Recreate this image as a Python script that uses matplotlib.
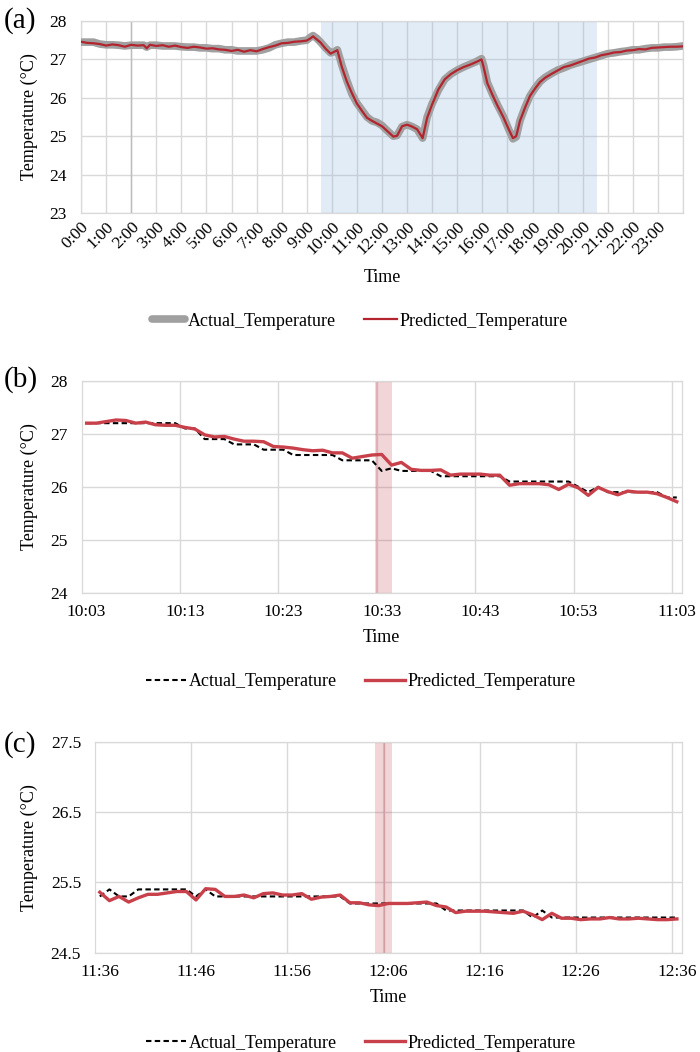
import matplotlib
matplotlib.use('Agg')
import matplotlib.pyplot as plt
import matplotlib.transforms as mtransforms
from matplotlib.ticker import FixedLocator, NullFormatter

plt.rcParams['font.family'] = ['Liberation Serif', 'DejaVu Serif']
plt.rcParams['axes.unicode_minus'] = False

# ---- panel (a): whole day, hours ----
hours_a = [0.00, 0.25, 0.50, 0.75, 1.00, 1.25, 1.50, 1.75, 2.00, 2.25, 2.50, 2.62, 2.75,
           3.00, 3.25, 3.50, 3.75, 4.00, 4.25, 4.50, 4.75, 5.00, 5.25, 5.50, 5.75,
           6.00, 6.25, 6.50, 6.75, 7.00, 7.25, 7.50, 7.75, 8.00, 8.25, 8.50, 8.75,
           9.00, 9.15, 9.25, 9.40, 9.55, 9.75, 9.95, 10.10, 10.22, 10.40, 10.60, 10.80,
           11.00, 11.20, 11.40, 11.60, 11.80, 12.00, 12.20, 12.45, 12.60, 12.80,
           13.00, 13.20, 13.40, 13.62, 13.80, 14.00, 14.25, 14.50, 14.75,
           15.00, 15.25, 15.50, 15.75, 15.97, 16.05, 16.20, 16.40, 16.60, 16.85,
           17.05, 17.22, 17.35, 17.50, 17.70, 17.90, 18.10, 18.30, 18.50, 18.75,
           19.00, 19.25, 19.50, 19.75, 20.00, 20.25, 20.50, 20.75, 21.00, 21.25,
           21.50, 21.75, 22.00, 22.25, 22.50, 22.75, 23.00, 23.25, 23.50, 23.75, 24.00]
actual_a = [27.45, 27.45, 27.45, 27.40, 27.38, 27.38, 27.37, 27.35, 27.37, 27.37, 27.37, 27.32, 27.37,
            27.37, 27.35, 27.35, 27.35, 27.33, 27.32, 27.32, 27.30, 27.30, 27.28, 27.28, 27.25,
            27.25, 27.22, 27.22, 27.22, 27.22, 27.25, 27.30, 27.38, 27.42, 27.45, 27.45, 27.48,
            27.50, 27.58, 27.62, 27.55, 27.45, 27.30, 27.17, 27.20, 27.25, 26.85, 26.45, 26.10,
            25.86, 25.68, 25.50, 25.40, 25.36, 25.28, 25.15, 25.00, 25.02, 25.25,
            25.30, 25.25, 25.18, 24.95, 25.50, 25.85, 26.20, 26.48, 26.62,
            26.72, 26.80, 26.87, 26.94, 27.02, 26.85, 26.40, 26.10, 25.82, 25.50,
            25.18, 24.93, 24.98, 25.40, 25.75, 26.05, 26.25, 26.42, 26.53, 26.63,
            26.72, 26.78, 26.85, 26.90, 26.95, 27.00, 27.05, 27.10, 27.15, 27.17,
            27.20, 27.22, 27.25, 27.25, 27.28, 27.30, 27.30, 27.32, 27.32, 27.33, 27.35]
predicted_a = [27.46, 27.43, 27.42, 27.40, 27.36, 27.39, 27.37, 27.33, 27.38, 27.36, 27.37, 27.29, 27.38,
               27.35, 27.37, 27.33, 27.36, 27.32, 27.30, 27.33, 27.31, 27.28, 27.29, 27.26, 27.25,
               27.22, 27.25, 27.20, 27.24, 27.21, 27.27, 27.32, 27.36, 27.42, 27.43, 27.46, 27.47,
               27.49, 27.55, 27.60, 27.52, 27.44, 27.28, 27.15, 27.20, 27.24, 26.80, 26.42, 26.12,
               25.85, 25.66, 25.48, 25.40, 25.33, 25.26, 25.14, 24.99, 25.01, 25.26,
               25.30, 25.25, 25.18, 24.95, 25.48, 25.83, 26.22, 26.48, 26.62,
               26.72, 26.80, 26.86, 26.93, 27.00, 26.80, 26.38, 26.08, 25.80, 25.48,
               25.18, 24.95, 25.00, 25.40, 25.74, 26.05, 26.24, 26.41, 26.52, 26.62,
               26.71, 26.80, 26.84, 26.90, 26.96, 27.02, 27.05, 27.11, 27.14, 27.18,
               27.19, 27.23, 27.24, 27.27, 27.26, 27.30, 27.31, 27.32, 27.33, 27.33, 27.34]
hour_labels = ['%d:00' % h for h in range(24)]
span_a = (9.57, 20.57)

# ---- panel (b): 10:03 - 11:03, one value per minute ----
labels_b = ['10:03', '10:13', '10:23', '10:33', '10:43', '10:53', '11:03']
actual_b = [27.2, 27.2, 27.2, 27.2, 27.2, 27.2, 27.2, 27.2, 27.2, 27.2,
            27.1, 27.1, 26.9, 26.9, 26.9, 26.8, 26.8, 26.8, 26.7, 26.7,
            26.7, 26.6, 26.6, 26.6, 26.6, 26.6, 26.5, 26.5, 26.5, 26.5,
            26.3, 26.35, 26.3, 26.3, 26.3, 26.3, 26.2, 26.2, 26.2, 26.2,
            26.2, 26.2, 26.2, 26.1, 26.1, 26.1, 26.1, 26.1, 26.1, 26.1,
            26.0, 25.9, 26.0, 25.9, 25.9, 25.9, 25.9, 25.9, 25.9, 25.8, 25.8]
predicted_b = [27.2, 27.2, 27.23, 27.26, 27.25, 27.2, 27.22, 27.17, 27.16, 27.16,
               27.12, 27.09, 26.98, 26.94, 26.95, 26.9, 26.86, 26.86, 26.85, 26.76,
               26.75, 26.73, 26.7, 26.68, 26.69, 26.64, 26.64, 26.54, 26.57, 26.6,
               26.61, 26.41, 26.46, 26.33, 26.31, 26.31, 26.32, 26.22, 26.24, 26.24,
               26.24, 26.22, 26.22, 26.03, 26.06, 26.06, 26.06, 26.04, 25.95, 26.05,
               25.98, 25.84, 25.99, 25.91, 25.85, 25.92, 25.9, 25.9, 25.87, 25.8, 25.72]
span_b = (29.38, 31.03)
mark_b = 29.45

# ---- panel (c): 11:36 - 12:36, one value per minute ----
labels_c = ['11:36', '11:46', '11:56', '12:06', '12:16', '12:26', '12:36']
actual_c = [25.3, 25.4, 25.3, 25.3, 25.4, 25.4, 25.4, 25.4, 25.4, 25.4,
            25.3, 25.4, 25.3, 25.3, 25.3, 25.3, 25.3, 25.3, 25.3, 25.3,
            25.3, 25.3, 25.3, 25.3, 25.3, 25.3, 25.2, 25.2, 25.2, 25.2,
            25.2, 25.2, 25.2, 25.2, 25.2, 25.2, 25.1, 25.1, 25.1, 25.1,
            25.1, 25.1, 25.1, 25.1, 25.1, 25.0, 25.1, 25.0, 25.0, 25.0,
            25.0, 25.0, 25.0, 25.0, 25.0, 25.0, 25.0, 25.0, 25.0, 25.0, 25.0]
predicted_c = [25.36, 25.24, 25.3, 25.22, 25.28, 25.33, 25.33, 25.35, 25.37, 25.37,
               25.25, 25.41, 25.4, 25.3, 25.3, 25.32, 25.28, 25.34, 25.35, 25.32,
               25.32, 25.34, 25.26, 25.29, 25.3, 25.32, 25.21, 25.21, 25.18, 25.17,
               25.2, 25.2, 25.2, 25.21, 25.22, 25.17, 25.15, 25.07, 25.09, 25.09,
               25.09, 25.08, 25.07, 25.06, 25.09, 25.04, 24.97, 25.06, 24.99, 24.99,
               24.97, 24.98, 24.98, 25.0, 24.98, 24.98, 24.99, 24.98, 24.97, 24.97, 24.98]
span_c = (28.6, 30.34)
mark_c = 29.5

W, H = 700, 1052
fig = plt.figure(figsize=(W / 100, H / 100), dpi=100)


def px_axes(l, t, r, b):
    return fig.add_axes([l / W, 1 - b / H, (r - l) / W, (b - t) / H])


grid_c = '#d9d9d9'
red_a = '#b3242e'
red_bc = '#c8404a'
fs = 13
tfs = 12.5


def style(ax):
    for s in ax.spines.values():
        s.set_color(grid_c)
        s.set_linewidth(0.9)
    ax.tick_params(axis='both', which='both', length=0, labelsize=tfs)
    ax.tick_params(axis='y', pad=10)
    ax.grid(True, which='both', color=grid_c, linewidth=1.0)
    ax.set_axisbelow(True)


def labels(ax, label_x, time_y, tag, tag_y):
    ax.set_ylabel('Temperature (°C)', fontsize=fs)
    ax.yaxis.set_label_coords(label_x / W, 0.5,
                              transform=mtransforms.blended_transform_factory(fig.transFigure, ax.transAxes))
    ax.set_xlabel('Time', fontsize=fs)
    ax.xaxis.set_label_coords(0.5, 1 - time_y / H,
                              transform=mtransforms.blended_transform_factory(ax.transAxes, fig.transFigure))
    ax.xaxis.label.set_va('center')
    fig.text(4 / W, 1 - tag_y / H, tag, fontsize=21, va='center', ha='left')


# (a)
ax = px_axes(81, 21, 683, 213)
style(ax)
ax.axvspan(span_a[0], span_a[1], color='#8fb4dc', alpha=0.25, lw=0, zorder=1.5)
ax.axvline(2, color='#bdbdbd', lw=1.0, zorder=0.6)
ax.plot(hours_a, actual_a, color='#a0a0a0', lw=5.5, solid_capstyle='round',
        label='Actual_Temperature', zorder=3)
ax.plot(hours_a, predicted_a, color=red_a, lw=1.6, label='Predicted_Temperature', zorder=4)
ax.set_xlim(0, 24)
ax.set_ylim(23, 28)
ax.set_yticks(range(23, 29))
ax.set_xticks(range(24))
ax.xaxis.set_minor_locator(FixedLocator([24]))
ax.set_xticklabels(hour_labels, rotation=45, ha='right', rotation_mode='anchor')
ax.tick_params(axis='x', pad=4)
labels(ax, 38, 277, '(a)', 21)
ax.legend(loc='center', bbox_to_anchor=(360 / W, 1 - 321 / H), bbox_transform=fig.transFigure,
          ncol=2, frameon=False, fontsize=fs, handlelength=1.8, handletextpad=0.15,
          columnspacing=1.6)


def minute_panel(ax, actual, predicted, tick_labels, span, mark, ylim, yticks, yfmt):
    style(ax)
    x = list(range(len(actual)))
    ax.axvspan(span[0], span[1], color='#c0404d', alpha=0.22, lw=0, zorder=1.5)
    ax.axvline(mark, color='#c0404d', alpha=0.2, lw=1.5, zorder=1.6)
    ax.plot(x, actual, color='black', lw=1.5, dashes=(2.6, 1.6),
            label='Actual_Temperature', zorder=3)
    ax.plot(x, predicted, color=red_bc, lw=2.4, label='Predicted_Temperature', zorder=4)
    ax.set_xlim(-0.5, len(actual) - 0.5)
    ax.set_ylim(*ylim)
    ax.set_yticks(yticks)
    ax.set_yticklabels([yfmt % v for v in yticks])
    ax.set_xticks(range(0, len(actual), 10))
    ax.set_xticklabels(tick_labels)
    ax.xaxis.set_minor_locator(FixedLocator([i + 9.5 for i in range(0, len(actual) - 1, 10)]))
    ax.xaxis.set_minor_formatter(NullFormatter())
    ax.grid(False, axis='x', which='major')
    ax.tick_params(axis='x', pad=8)


# (b)
ax = px_axes(81.7, 380.7, 681.7, 593)
minute_panel(ax, actual_b, predicted_b, labels_b, span_b, mark_b, (24, 28), [24, 25, 26, 27, 28], '%d')
labels(ax, 38, 637, '(b)', 380)
ax.legend(loc='center', bbox_to_anchor=(361 / W, 1 - 682 / H), bbox_transform=fig.transFigure,
          ncol=2, frameon=False, fontsize=fs, handlelength=2.2, handletextpad=0.15,
          columnspacing=1.6)

# (c)
ax = px_axes(95, 741.7, 681.7, 952.7)
minute_panel(ax, actual_c, predicted_c, labels_c, span_c, mark_c, (24.5, 27.5),
             [24.5, 25.5, 26.5, 27.5], '%.1f')
labels(ax, 38, 998, '(c)', 745)
ax.legend(loc='center', bbox_to_anchor=(361 / W, 1 - 1043 / H), bbox_transform=fig.transFigure,
          ncol=2, frameon=False, fontsize=fs, handlelength=2.2, handletextpad=0.15,
          columnspacing=1.6)

fig.savefig('out.png', dpi=100)
